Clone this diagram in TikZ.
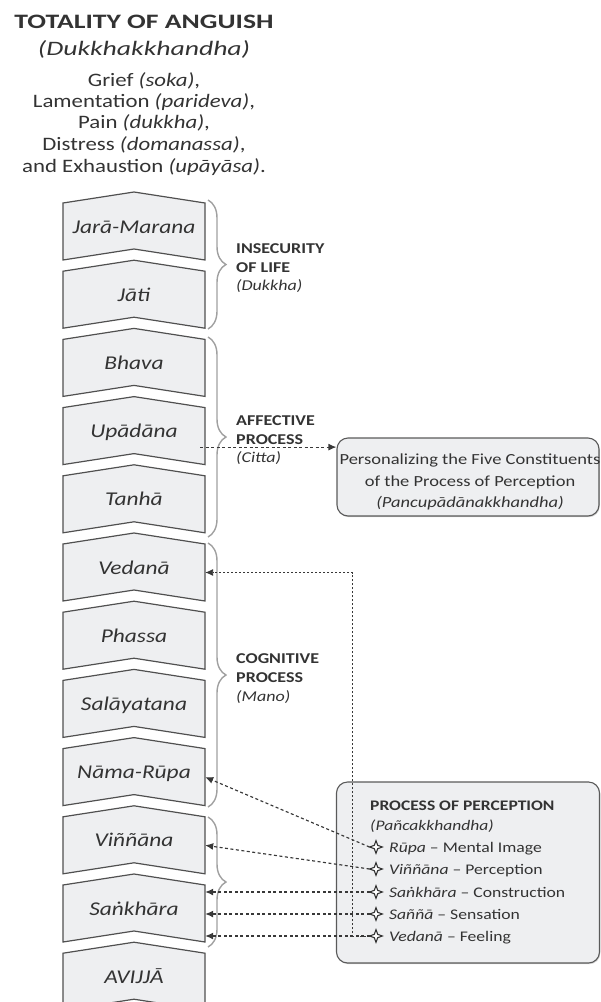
\documentclass[tikz,border=0pt]{standalone}
\usepackage{fontspec}
\setmainfont{Carlito}[FakeStretch=1.2]
\newfontfamily\titlefont{Carlito}[FakeStretch=1.35]
\usetikzlibrary{arrows.meta,decorations.pathreplacing,shadows}
\definecolor{txt}{HTML}{333333}
\definecolor{boxfill}{HTML}{EEEFF1}
\definecolor{boxdraw}{HTML}{505050}
\definecolor{bracegray}{HTML}{A0A0A0}
\definecolor{linkgray}{HTML}{383838}
\definecolor{panelgray}{HTML}{5A5A5A}
% four-pointed outline star drawn round a named node
\newcommand\fourstar[1]{%
  \draw[starline] ([yshift=6.3pt]#1.center) -- ++(1.7,4.6) -- ++(4.6,1.7) -- ++(-4.6,1.7)
    -- ++(-1.7,4.6) -- ++(-1.7,-4.6) -- ++(-4.6,-1.7) -- ++(4.6,-1.7) -- cycle;}
\begin{document}
\begin{tikzpicture}[x=1pt,y=-1pt,
  chevshape/.style={fill=boxfill, draw=boxdraw, line width=1.2pt, line join=miter},
  chev/.style={minimum width=142pt, minimum height=57pt, inner sep=0pt},
  chevlabel/.style={anchor=base, inner sep=0pt, text=txt, font=\fontsize{19.5}{24}\selectfont\itshape},
  headline/.style={anchor=base, inner sep=0pt, text=txt, font=\fontsize{19}{23}\selectfont},
  grp/.style={decorate, decoration={brace, amplitude=18pt}, draw=bracegray, line width=1.4pt},
  grplabel/.style={anchor=base west, inner sep=0pt, text=txt, font=\fontsize{15}{18}\selectfont},
  link/.style={draw=linkgray, line width=1.15pt, dash pattern=on 3pt off 2.5pt, -{Latex[length=8pt,width=7pt]}},
  finelink/.style={link, line width=0.95pt, dash pattern=on 2pt off 2pt},
  panel/.style={draw=panelgray, fill=boxfill, line width=1.1pt, rounded corners=11pt,
    drop shadow={shadow xshift=0.8pt, shadow yshift=-1.2pt, opacity=0.35}},
  itemstar/.style={inner sep=0pt, minimum size=12.6pt},
  starline/.style={draw=txt, line width=1.1pt, line join=miter, fill=white},
  itemtext/.style={anchor=base west, inner sep=0pt, text=txt, font=\fontsize{14.7}{18}\selectfont}
]
\useasboundingbox (0,0) rectangle (601,1002);
\clip (0,0) rectangle (601,1002);

% heading
\node[headline, font=\titlefont\fontsize{20.5}{24}\selectfont\bfseries] (title) at (144,28) {TOTALITY OF ANGUISH};
\node[headline, font=\titlefont\fontsize{20.5}{24}\selectfont\itshape] (subtitle) at (144,55) {(Dukkhakkhandha)};
\node[headline] (h1) at (144,86) {Grief \textit{(soka)},};
\node[headline] (h2) at (144,107) {Lamentation \textit{(parideva)},};
\node[headline] (h3) at (144,128) {Pain \textit{(dukkha)},};
\node[headline] (h4) at (144,150) {Distress \textit{(domanassa)},};
\node[headline] (h5) at (144,172) {and Exhaustion \textit{(upāyāsa)}.};

% chain of twelve links
\foreach \nm/\lab [count=\i from 0] in {jara/Jarā-Marana, jati/Jāti, bhava/Bhava, upadana/Upādāna,
    tanha/Tanhā, vedana/Vedanā, phassa/Phassa, salayatana/Salāyatana, namarupa/Nāma-Rūpa,
    vinnana/Viññāna, sankhara/Saṅkhāra, avijja/AVIJJĀ}{
  \pgfmathsetmacro\t{203+68.2*\i}
  \path[chevshape] (63,\t) -- (134,{\t-11}) -- (205,\t) -- (205,{\t+57}) -- (134,{\t+46}) -- (63,{\t+57}) -- cycle;
  \node[chev] (\nm) at (134,{\t+28.5}) {};
  \node[chevlabel] (\nm-l) at (134,{\t+30}) {\lab};
}

% group braces
\draw[grp] (208,200) -- (208,329);
\draw[grp] (208,337) -- (208,537);
\draw[grp] (208,543) -- (208,807);
\draw[grp] (208,817) -- (208,947);

\node[grplabel] (g1a) at (236,253) {\bfseries INSECURITY};
\node[grplabel] (g1b) at (236,272) {\bfseries OF LIFE};
\node[grplabel] (g1c) at (236,290) {\itshape (Dukkha)};
\node[grplabel] (g2a) at (236,425) {\bfseries AFFECTIVE};
\node[grplabel] (g2b) at (236,444) {\bfseries PROCESS};
\node[grplabel] (g2c) at (236,462) {\itshape (Citta)};
\node[grplabel] (g3a) at (236,663) {\bfseries COGNITIVE};
\node[grplabel] (g3b) at (236,682) {\bfseries PROCESS};
\node[grplabel] (g3c) at (236,701) {\itshape (Mano)};

% panel: personalizing
\node[panel, minimum width=262pt, minimum height=78pt, inner sep=0pt] (pers) at (468,477) {};
\node[inner sep=0pt, align=center, text=txt, font=\fontsize{15.4}{21.5}\selectfont] (pers-t) at (470,482)
  {Personalizing the Five Constituents\\of the Process of Perception\\\textit{(Pancupādānakkhandha)}};

% panel: process of perception
\node[panel, minimum width=263pt, minimum height=181pt, inner sep=0pt] (perc) at (468,872.5) {};
\node[itemtext, font=\fontsize{14.6}{18}\selectfont\bfseries] (perc-t) at (370,810) {PROCESS OF PERCEPTION};
\node[itemtext, font=\fontsize{14.6}{18}\selectfont\itshape] (perc-s) at (370,830) {(Pañcakkhandha)};

\node[itemstar] (s1) at (376,847) {};
\node[itemstar] (s2) at (376,869) {};
\node[itemstar] (s3) at (376,892) {};
\node[itemstar] (s4) at (376,914) {};
\node[itemstar] (s5) at (376,936) {};
\node[itemtext] (i1) at (389,852) {\textit{Rūpa} – Mental Image};
\node[itemtext] (i2) at (389,874) {\textit{Viññāna} – Perception};
\node[itemtext] (i3) at (389,897) {\textit{Saṅkhāra} – Construction};
\node[itemtext] (i4) at (389,919) {\textit{Saññā} – Sensation};
\node[itemtext] (i5) at (389,941) {\textit{Vedanā} – Feeling};

% connectors
\coordinate (upa-out) at ([xshift=-5pt,yshift=-11pt]upadana.east);
\draw[link] (upa-out) -- (upa-out -| pers.west);
\path (vedana.east) ++(147,0) coordinate (turn);
\draw[finelink] (s5.west) -| (turn) -- (vedana.east);
\draw[link] (s1.west) -- (namarupa.east);
\draw[link] (s2.west) -- (vinnana.east);
\draw[link] (s3.west) -- (s3.west -| sankhara.east);
\draw[link] (s4.west) -- (s4.west -| sankhara.east);
\draw[link] (s5.west) -- (s5.west -| sankhara.east);

% stars on top of the connector ends
\foreach \s in {s1,s2,s3,s4,s5}{\fourstar{\s}}
\end{tikzpicture}
\end{document}
